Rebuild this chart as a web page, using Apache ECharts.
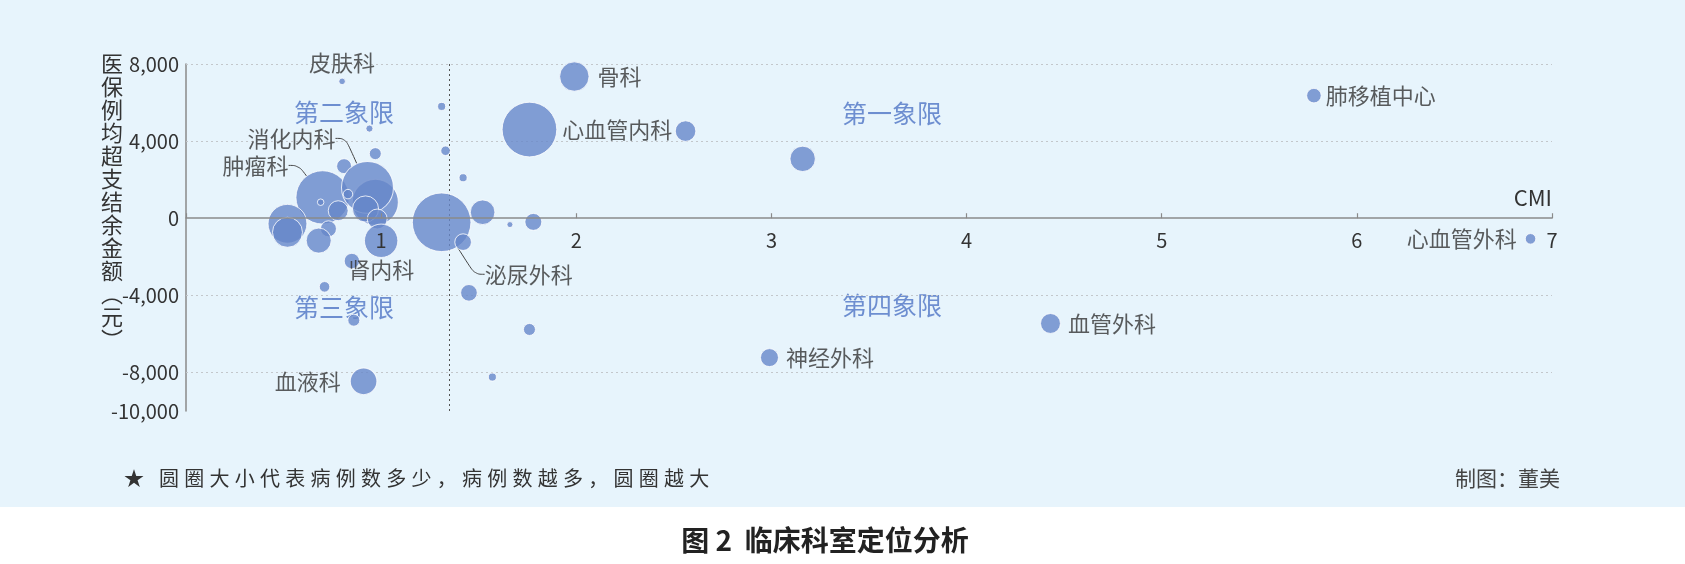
<!DOCTYPE html>
<html><head><meta charset="utf-8">
<script src="https://cdn.jsdelivr.net/npm/echarts@6/dist/echarts.min.js"></script>
<style>
html,body{margin:0;padding:0;background:#fff;}
#c{width:1685px;height:564px;background:linear-gradient(#e7f4fc 0,#e7f4fc 507px,#fff 507px,#fff 100%);}
</style></head><body><div id="c"></div>
<script>
// ---- data ----
const names = ['皮肤科','','','','','','','心血管内科','骨科','肿瘤科',
  '','消化内科','','','肾内科','','','','','',
  '','','','','','血液科','泌尿外科','','','',
  '','','','','','','神经外科','肺移植中心','心血管外科','血管外科'];
const cmi = [0.80,1.31,0.94,0.97,0.81,1.33,1.42,1.76,1.99,0.70,
  0.97,0.93,0.92,0.98,1.00,0.78,0.73,0.68,0.52,0.52,
  0.83,0.69,0.85,0.71,0.86,0.91,1.31,1.52,1.42,1.45,
  1.66,1.78,1.76,1.57,2.56,3.16,2.99,5.78,6.89,4.43];
const balance = [7100,5800,4650,3350,2700,3500,2100,4600,7350,1080,
  830,1600,480,-40,-1170,390,-550,-1160,-290,-730,
  1250,830,-2220,-3560,-5290,-8460,-210,310,-1240,-3870,
  -330,-190,-5770,-8240,4520,3080,-7230,6360,-1070,-5460];
const cases = [120,180,140,400,620,250,180,8300,2400,7900,
  5900,7500,1900,1100,3100,1100,710,1740,4200,2500,
  250,120,660,310,400,1970,9540,1680,770,770,
  100,800,400,180,1180,1790,900,590,310,1100];
const yTickLabels = [8000,4000,0,-4000,-8000,-10000];
const gridValues = [8000,4000,-4000,-8000];
const avgCMI = 1.35;
const quadrantNames = ['第一象限','第二象限','第三象限','第四象限'];
const yName = '医保例均超支结余金额︵元︶';
const xName = 'CMI';
const footnote = '★ 圆圈大小代表病例数多少，病例数越多，圆圈越大';
const credit = '制图：董美';
const caption = '图 2  临床科室定位分析';

// ---- styles ----
const FONT = "'Noto Sans CJK SC','Noto Sans',sans-serif";
const TXT = '#333';
const labelStyles = {
  '皮肤科': {position:'top', distance:4, offset:[-26,0]},
  '骨科': {position:'right', distance:8},
  '心血管内科': {position:'right', distance:5, offset:[-21,3]},
  '神经外科': {position:'right', distance:7},
  '肺移植中心': {position:'right', distance:4},
  '心血管外科': {position:'left', distance:8, offset:[0,4]},
  '血管外科': {position:'right', distance:7},
  '血液科': {position:'left', distance:9},
  '肾内科': {position:'bottom', distance:1, offset:[30,0]}
};
const leaderLabels = {
  '泌尿外科': {dx:43, dy:52, align:'left'},
  '消化内科': {dx:-32, dy:-49, align:'right'},
  '肿瘤科': {dx:-34, dy:-32, align:'right'}
};
const quadrantPos = [[892,113],[344,112],[344,307],[892,305]];

const data = names.map((n,i)=>{
  const item = {name:n, value:[cmi[i], balance[i], cases[i]]};
  if (leaderLabels[n]) {
    item.label = {show:true, position:'right'};
    item.labelLine = {show:true, smooth:0.4, length2:10, lineStyle:{color:'#444', width:1}};
  } else if (labelStyles[n]) {
    item.label = Object.assign({show:true}, labelStyles[n]);
  }
  return item;
});

const chart = echarts.init(document.getElementById('c'), null, {renderer:'canvas'});
const graphics = [];
graphics.push({type:'text', x:112, y:52, silent:true,
  style:{text:yName.split('').join('\n'), fill:TXT, fontSize:22, lineHeight:23, fontFamily:FONT,
    align:'center', textAlign:'center', verticalAlign:'top', textVerticalAlign:'top'}});
quadrantNames.forEach((q,i)=>graphics.push({type:'text', x:quadrantPos[i][0], y:quadrantPos[i][1], silent:true,
  style:{text:q, fill:'#6d8ed0', fontSize:25, fontFamily:FONT, align:'center', textAlign:'center',
    verticalAlign:'middle', textVerticalAlign:'middle'}}));
graphics.push({type:'text', x:124, y:478, silent:true,
  style:{text:footnote.split('').join('\u2009\u200A'), fill:TXT, fontSize:20, fontFamily:FONT,
    align:'left', textAlign:'left', verticalAlign:'middle', textVerticalAlign:'middle'}});
graphics.push({type:'text', x:1560, y:478, silent:true,
  style:{text:credit, fill:'#444', fontSize:21, fontFamily:FONT,
    align:'right', textAlign:'right', verticalAlign:'middle', textVerticalAlign:'middle'}});
graphics.push({type:'text', x:825, y:540, silent:true,
  style:{text:caption, fill:'#222', fontSize:28, fontWeight:'bold', fontFamily:FONT,
    align:'center', textAlign:'center', verticalAlign:'middle', textVerticalAlign:'middle'}});

chart.setOption({
  animation:false,
  backgroundColor:'transparent',
  textStyle:{fontFamily:FONT},
  grid:{left:186, right:133, top:64, bottom:153, containLabel:false},
  xAxis:{type:'value', min:0, max:7, interval:1, z:3, offset:0,
    name:xName, nameLocation:'end', nameGap:0,
    nameTextStyle:{fontSize:22, color:TXT, fontFamily:FONT, align:'right', verticalAlign:'bottom', padding:[0,0,10,0]},
    axisLine:{show:true, onZero:false, lineStyle:{color:'#8a8a8a', width:1.5}},
    axisTick:{show:true, inside:true, length:5, lineStyle:{color:'#8a8a8a', width:1.2}},
    axisLabel:{fontSize:20, color:TXT, margin:12, fontFamily:FONT, formatter:v=> v===0 ? '' : String(v)},
    splitLine:{show:false}},
  yAxis:{type:'value', min:-10000, max:8000, interval:2000,
    axisLine:{show:true, lineStyle:{color:'#8a8a8a', width:1.5}},
    axisTick:{show:false}, splitLine:{show:false},
    axisLabel:{fontSize:20, color:TXT, margin:7, fontFamily:FONT,
      formatter:v=> yTickLabels.includes(v) ? v.toLocaleString('en-US') : ''}},
  graphic:graphics,
  series:[{
    type:'scatter',
    data:data,
    symbolSize:v=>Math.sqrt(v[2])*0.6,
    itemStyle:{color:'#6687c9', opacity:0.8, borderColor:'#ffffff', borderWidth:1},
    label:{show:false, formatter:'{b}', color:TXT, fontSize:22, fontFamily:FONT},
    emphasis:{disabled:true},
    labelLayout:function(p){
      const L = leaderLabels[names[p.dataIndex]];
      if (!L) return {};
      const cx = p.rect.x + p.rect.width/2, cy = p.rect.y + p.rect.height/2;
      return {x:cx + L.dx, y:cy + L.dy, align:L.align, verticalAlign:'middle'};
    },
    markLine:{silent:true, symbol:'none', z:1, animation:false,
      label:{show:false},
      lineStyle:{color:'#c3c7cb', type:[2,3], width:1},
      data:gridValues.map(v=>({yAxis:v})).concat([{xAxis:avgCMI, lineStyle:{color:'#555', type:[2,3], width:1}}])}
  }]
});
// move the x axis (line, ticks, labels) onto the zero balance line
const yMin = chart.getModel().getComponent('yAxis', 0).axis.scale.getExtent()[0];
const zeroY = chart.convertToPixel({yAxisIndex:0}, 0);
const bottomY = chart.convertToPixel({yAxisIndex:0}, yMin);
chart.setOption({xAxis:{offset: zeroY - bottomY}});
</script></body></html>
